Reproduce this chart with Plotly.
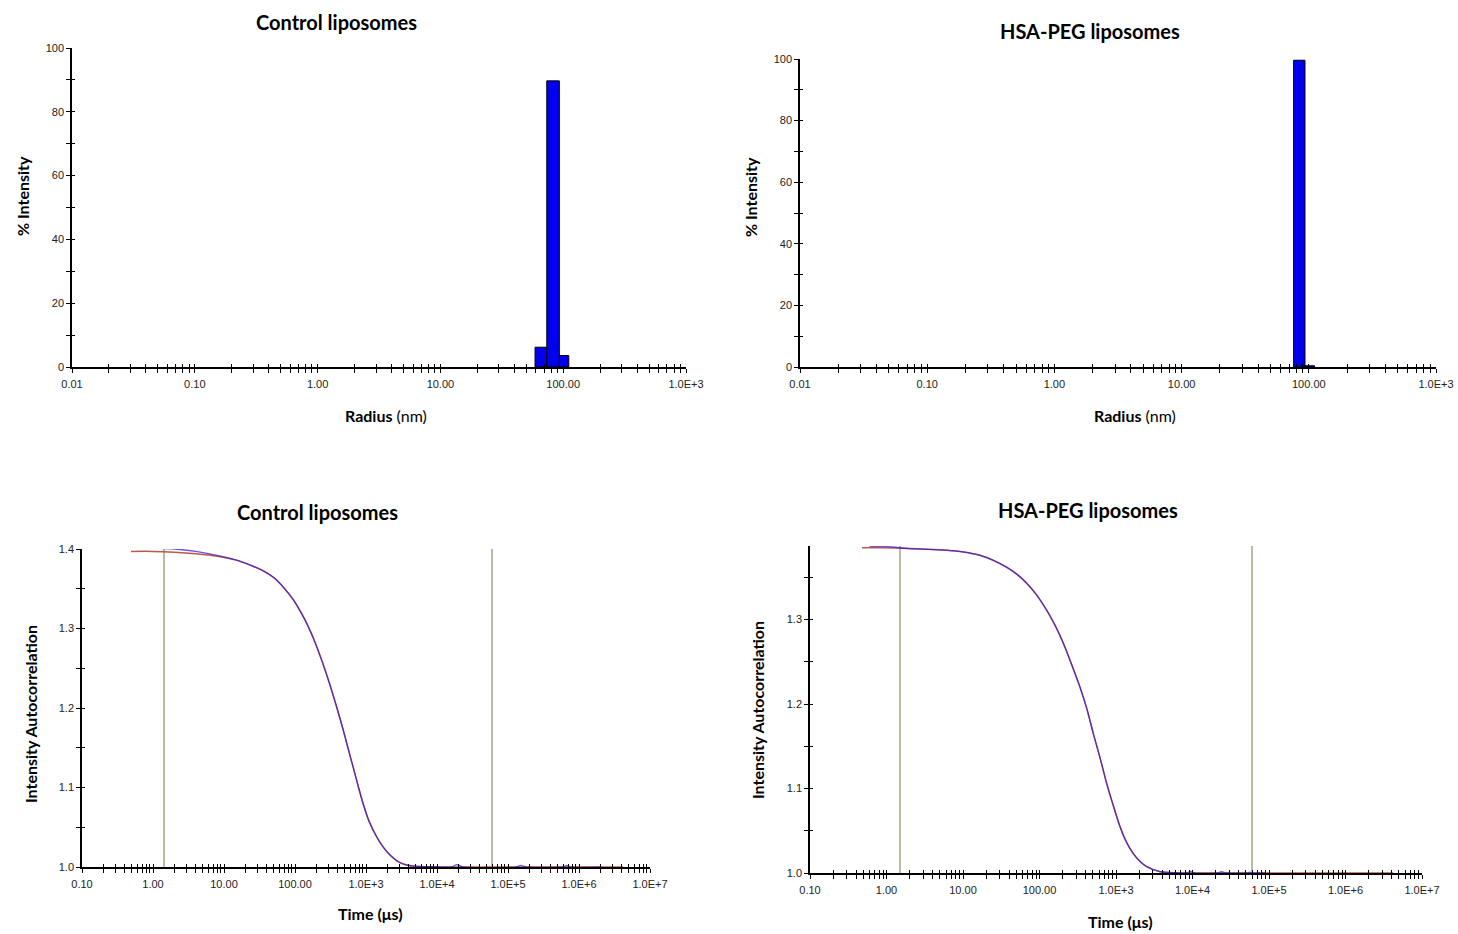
import plotly.graph_objects as go

# ---------------- data ----------------
# Size distributions (radius in nm, % intensity per bin)
ctrl_bin_edges = [59.0, 73.5, 93.0, 111.0]
ctrl_pct = [6.2, 89.7, 3.6]
hsa_bin_edges = [76.0, 93.3, 111.0]
hsa_pct = [99.6, 0.4]

# Autocorrelation - control liposomes (time in us)
ctrl_fit_t = [0.49, 1, 2, 4, 8, 15, 23, 35, 45, 55, 70, 95, 120, 140, 181, 240, 311, 390, 479,
              560, 662, 780, 916, 1100, 1413, 1750, 2178, 2800, 3741, 5000, 8000, 2e4, 1e5, 1e6, 4.2e6]
ctrl_fit_g = [1.397, 1.397, 1.396, 1.394, 1.391, 1.386, 1.380, 1.373, 1.367, 1.361, 1.351, 1.336,
              1.321, 1.310, 1.288, 1.259, 1.229, 1.200, 1.172, 1.149, 1.125, 1.101, 1.079, 1.058,
              1.038, 1.025, 1.015, 1.007, 1.0025, 1.001, 1.0003, 1.0, 1.0, 1.0, 1.0]
ctrl_data_t = [0.68, 1, 2, 4, 8, 15, 23, 35, 45, 55, 70, 95, 120, 140, 181, 240, 311, 390, 479,
               560, 662, 780, 916, 1100, 1413, 1750, 2178, 2800, 3741, 5000, 8000, 1.6e4, 1.9e4,
               2.3e4, 1.3e5, 1.5e5, 1.8e5, 6.0e5, 6.7e5, 7.5e5, 2.0e6]
ctrl_data_g = [1.401, 1.401, 1.400, 1.397, 1.392, 1.386, 1.380, 1.373, 1.367, 1.361, 1.351, 1.336,
               1.321, 1.310, 1.288, 1.259, 1.229, 1.200, 1.172, 1.149, 1.125, 1.101, 1.079, 1.058,
               1.038, 1.025, 1.015, 1.007, 1.0025, 1.001, 1.0003, 1.0, 1.003, 1.0, 1.0, 1.002, 1.0,
               1.0, 1.002, 1.0, 1.0]
ctrl_cursors = [1.43, 59600]

# Autocorrelation - HSA-PEG liposomes
hsa_fit_t = [0.48, 0.82, 2, 6.1, 10, 16.7, 25, 37, 50, 68, 90, 124, 160, 205, 260, 338, 420, 505,
             620, 755, 920, 1127, 1380, 1683, 2050, 2520, 3760, 6000, 1e4, 1e5, 1e6, 4.2e6]
hsa_fit_g = [1.385, 1.385, 1.384, 1.382, 1.380, 1.376, 1.370, 1.362, 1.354, 1.343, 1.330, 1.311,
             1.293, 1.272, 1.248, 1.220, 1.193, 1.165, 1.136, 1.106, 1.080, 1.055, 1.036, 1.023,
             1.014, 1.0075, 1.0015, 1.0003, 1.0, 1.0, 1.0, 1.0]
hsa_data_t = [0.6, 0.9, 2, 6.1, 10, 16.7, 25, 37, 50, 68, 90, 124, 160, 205, 260, 338, 420, 505,
              620, 755, 920, 1127, 1380, 1683, 2050, 2520, 3760, 6000, 8500, 9400, 1.05e4,
              2.1e4, 2.4e4, 2.8e4, 5.2e4, 5.6e4, 6.0e4, 9.0e4]
hsa_data_g = [1.3866, 1.3866, 1.384, 1.382, 1.380, 1.376, 1.370, 1.362, 1.354, 1.343, 1.330, 1.311,
              1.293, 1.272, 1.248, 1.220, 1.193, 1.165, 1.136, 1.106, 1.080, 1.055, 1.036, 1.023,
              1.014, 1.0075, 1.0015, 1.0003, 1.0, 1.002, 1.0, 1.0, 1.0015, 1.0, 1.0, 1.001, 1.0, 1.0]
hsa_cursors = [1.5, 60000]

radius_ticks = [0.01, 0.1, 1, 10, 100, 1000]
radius_labels = ["0.01", "0.10", "1.00", "10.00", "100.00", "1.0E+3"]
time_ticks = [0.1, 1, 10, 100, 1e3, 1e4, 1e5, 1e6, 1e7]
time_labels = ["0.10", "1.00", "10.00", "100.00", "1.0E+3", "1.0E+4", "1.0E+5", "1.0E+6", "1.0E+7"]
pct_ticks = [0, 20, 40, 60, 80, 100]
g_ticks = [1.0, 1.1, 1.2, 1.3, 1.4]

titles = ["Control liposomes", "HSA-PEG liposomes", "Control liposomes", "HSA-PEG liposomes"]

# ---------------- helpers ----------------
def log_ticks(majors, labels):
    vals, texts = [], []
    for i, m in enumerate(majors):
        vals.append(m)
        texts.append(labels[i])
        if i < len(majors) - 1:
            for k in range(2, 10):
                vals.append(m * k)
                texts.append("")
    return vals, texts

def lin_ticks(majors, step, fmt):
    vals, texts = [], []
    for i, m in enumerate(majors):
        vals.append(m)
        texts.append(fmt.format(m))
        if i < len(majors) - 1:
            vals.append(m + step)
            texts.append("")
    return vals, texts

W, H = 1458, 934
def fx(p):
    return p / W
def fy(p):
    return 1 - p / H

tick_font = dict(family="Liberation Sans, Arial", size=11, color="#222222")
BAR_FILL = "#0000ee"

fig = go.Figure()

def add_bars(edges, pct, xa, ya):
    for i, h in enumerate(pct):
        l, r = edges[i], edges[i + 1]
        fig.add_trace(go.Scatter(
            x=[l, l, r, r, l], y=[0, h, h, 0, 0], mode="lines", fill="toself",
            fillcolor=BAR_FILL, line=dict(color="black", width=1),
            xaxis=xa, yaxis=ya, showlegend=False, hoverinfo="skip"))

add_bars(ctrl_bin_edges, ctrl_pct, "x", "y")
add_bars(hsa_bin_edges, hsa_pct, "x2", "y2")

CURSOR = "#8c8c6c"
FIT = "#b85a4a"
DATA = "#3a1ad8"

def add_corr(fit_t, fit_g, data_t, data_g, cursors, top, xa, ya):
    for c in cursors:
        fig.add_trace(go.Scatter(x=[c, c], y=[1.0, top], mode="lines",
                                 line=dict(color=CURSOR, width=1.2),
                                 xaxis=xa, yaxis=ya, showlegend=False, hoverinfo="skip"))
    fig.add_trace(go.Scatter(x=fit_t, y=fit_g, mode="lines",
                             line=dict(color=FIT, width=1.5, shape="spline", smoothing=0.6),
                             xaxis=xa, yaxis=ya, showlegend=False))
    fig.add_trace(go.Scatter(x=data_t, y=data_g, mode="lines",
                             line=dict(color=DATA, width=1.3, shape="spline", smoothing=0.6),
                             opacity=0.75, xaxis=xa, yaxis=ya, showlegend=False))

add_corr(ctrl_fit_t, ctrl_fit_g, ctrl_data_t, ctrl_data_g, ctrl_cursors, 1.4, "x3", "y3")
add_corr(hsa_fit_t, hsa_fit_g, hsa_data_t, hsa_data_g, hsa_cursors, 1.387, "x4", "y4")

rv, rt = log_ticks(radius_ticks, radius_labels)
tv, tt = log_ticks(time_ticks, time_labels)
pv, pt = lin_ticks(pct_ticks, 10, "{:d}")
gv, gt = lin_ticks(g_ticks, 0.05, "{:.1f}")
gv2 = [v for v in gv if v <= 1.387]
gt2 = gt[:len(gv2)]

def xaxis(dom, rng, vals, texts, anchor):
    return dict(domain=dom, type="log", range=rng, tickmode="array", tickvals=vals,
                ticktext=texts, ticks="outside", ticklen=4, tickwidth=1, tickcolor="black",
                showline=True, linecolor="black", linewidth=1.5, showgrid=False,
                zeroline=False, tickfont=tick_font, anchor=anchor, ticklabelstandoff=2,
                automargin=False)

def yaxis(dom, rng, vals, texts, anchor):
    return dict(domain=dom, range=rng, tickmode="array", tickvals=vals, ticktext=texts,
                ticks="outside", ticklen=4, tickwidth=1, tickcolor="black",
                showline=True, linecolor="black", linewidth=1.5, showgrid=False,
                zeroline=False, tickfont=tick_font, anchor=anchor, automargin=False)

def inner_x(base, rng, vals, anchor):
    return dict(overlaying=base, type="log", range=rng, tickmode="array", tickvals=vals,
                ticks="inside", ticklen=3, tickwidth=1, tickcolor="black",
                showline=False, showgrid=False, zeroline=False, showticklabels=False,
                anchor=anchor, automargin=False)

def inner_y(base, rng, vals, anchor):
    return dict(overlaying=base, range=rng, tickmode="array", tickvals=vals,
                ticks="inside", ticklen=3, tickwidth=1, tickcolor="black",
                showline=False, showgrid=False, zeroline=False, showticklabels=False,
                anchor=anchor, automargin=False)

ranges = [([-2, 3], [0, 100]), ([-2, 3], [0, 100]), ([-1, 7], [1.0, 1.4]), ([-1, 7], [1.0, 1.387])]
xtick_sets = [rv, rv, tv, tv]
ytick_sets = [pv, pv, gv, gv2]

layout_axes = dict(
    xaxis=xaxis([fx(72), fx(686)], ranges[0][0], rv, rt, "y"),
    yaxis=yaxis([fy(367), fy(48)], ranges[0][1], pv, pt, "x"),
    xaxis2=xaxis([fx(800), fx(1436)], ranges[1][0], rv, rt, "y2"),
    yaxis2=yaxis([fy(367), fy(59)], ranges[1][1], pv, pt, "x2"),
    xaxis3=xaxis([fx(82), fx(650)], ranges[2][0], tv, tt, "y3"),
    yaxis3=yaxis([fy(867), fy(549)], ranges[2][1], gv, gt, "x3"),
    xaxis4=xaxis([fx(810), fx(1422)], ranges[3][0], tv, tt, "y4"),
    yaxis4=yaxis([fy(873), fy(546)], ranges[3][1], gv2, gt2, "x4"),
)
# overlay axes that draw the inner half of the crossing ticks
for i in range(4):
    base = "" if i == 0 else str(i + 1)
    n = str(i + 5)
    layout_axes["xaxis" + n] = inner_x("x" + base, ranges[i][0], xtick_sets[i], "y" + base)
    layout_axes["yaxis" + n] = inner_y("y" + base, ranges[i][1], ytick_sets[i], "x" + base)
    fig.add_trace(go.Scatter(x=[None], y=[None], mode="lines", xaxis="x" + n, yaxis="y" + n,
                             showlegend=False, hoverinfo="skip"))

fig.update_layout(
    width=W, height=H, margin=dict(l=0, r=0, t=0, b=0, autoexpand=False),
    paper_bgcolor="white", plot_bgcolor="white", showlegend=False, **layout_axes)

title_font = dict(family="Lato, Open Sans, sans-serif", size=20, color="black")
label_font = dict(family="Lato, Open Sans, sans-serif", size=16, color="black")

def ann(text, x, y, font, angle=0):
    fig.add_annotation(text=text, x=fx(x), y=fy(y), xref="paper", yref="paper",
                       xanchor="center", yanchor="middle", showarrow=False,
                       font=font, textangle=angle)

ann("<b>" + titles[0] + "</b>", 336, 22, title_font)
ann("<b>" + titles[1] + "</b>", 1090, 31, title_font)
ann("<b>" + titles[2] + "</b>", 317, 512, title_font)
ann("<b>" + titles[3] + "</b>", 1088, 510, title_font)

ann("<b>Radius</b> (nm)", 386, 415, label_font)
ann("<b>Radius</b> (nm)", 1135, 415, label_font)
ann("<b>Time (μs)</b>", 370, 913, label_font)
ann("<b>Time (μs)</b>", 1120, 921, label_font)

ann("<b>% Intensity</b>", 22, 196, label_font, -90)
ann("<b>% Intensity</b>", 750, 197, label_font, -90)
ann("<b>Intensity Autocorrelation</b>", 30, 714, label_font, -90)
ann("<b>Intensity Autocorrelation</b>", 757, 710, label_font, -90)

# remove the default 8px page margin so the figure fills the window exactly
fig.write_html("out.html", config={"displayModeBar": False},
               post_script="document.body.style.margin='0px';")
